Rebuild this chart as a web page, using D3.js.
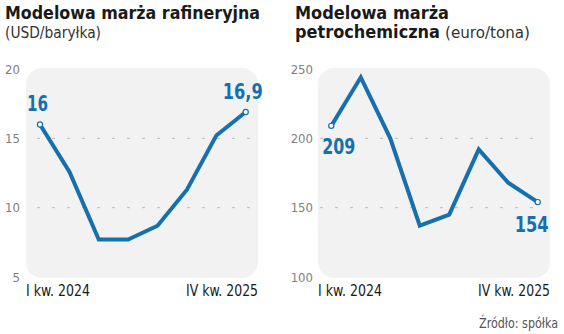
<!DOCTYPE html>
<html><head><meta charset="utf-8">
<script src="https://cdn.jsdelivr.net/npm/d3@7/dist/d3.min.js"></script>
<style>
html,body{margin:0;padding:0;background:#fff;}
svg{display:block;font-family:"DejaVu Sans Condensed","DejaVu Sans",sans-serif;}
</style></head><body>
<svg id="c" width="564" height="334"></svg>
<script>
const quarters = ["I kw. 2024","II kw. 2024","III kw. 2024","IV kw. 2024","I kw. 2025","II kw. 2025","III kw. 2025","IV kw. 2025"];
const refiningMargin = [16, 12.6, 7.7, 7.7, 8.7, 11.3, 15.2, 16.9];
const petchemMargin = [209, 244, 200, 137, 145, 192, 168, 154];
const refiningTicks = [5, 10, 15, 20];
const petchemTicks = [100, 150, 200, 250];
const refiningLabels = ["16", "16,9"];
const petchemLabels = ["209", "154"];

const svg = d3.select("#c");
const BLUE = "#1670ad";

function panel(o){
  const g = svg.append("g");
  const x = d3.scalePoint().domain(quarters).range([o.x0, o.x1]);
  const y = d3.scaleLinear().domain(o.domain).range([277, 69]);
  g.append("rect").attr("x", o.bgL).attr("y", 68).attr("width", o.bgR - o.bgL).attr("height", 210)
    .attr("rx", 16).attr("fill", "#f2f2f2");
  const ax = d3.axisLeft(y).tickValues(o.ticks).tickSize(0).tickPadding(0);
  const ag = g.append("g").attr("transform", `translate(${o.tickX},0)`).call(ax);
  ag.select(".domain").remove();
  ag.selectAll("text").attr("fill", "#808080").attr("font-size", 13)
    .attr("font-family", "'DejaVu Sans Condensed','DejaVu Sans',sans-serif").attr("font-weight", 300);
  g.selectAll(".grid").data(o.ticks.slice(1, -1)).enter().append("line")
    .attr("x1", o.gL).attr("x2", o.gR).attr("y1", d => y(d)).attr("y2", d => y(d))
    .attr("stroke", "#bbb").attr("stroke-width", 1).attr("stroke-dasharray", "3,12");
  g.append("text").attr("x", o.bgL).attr("y", 296).attr("font-size", 15.5).attr("fill", "#1a1a1a")
    .attr("font-weight", 500).attr("textLength", 64).attr("lengthAdjust", "spacingAndGlyphs").text(quarters[0]);
  g.append("text").attr("x", o.bgR).attr("y", 296).attr("font-size", 15.5).attr("fill", "#1a1a1a")
    .attr("text-anchor", "end").attr("font-weight", 500).attr("textLength", 72)
    .attr("lengthAdjust", "spacingAndGlyphs").text(quarters[quarters.length - 1]);
  const line = d3.line().x((d, i) => x(quarters[i])).y(d => y(d));
  g.append("path").datum(o.data).attr("d", line).attr("fill", "none").attr("stroke", BLUE)
    .attr("stroke-width", 4).attr("stroke-linejoin", "miter");
  const ends = [0, o.data.length - 1];
  g.selectAll(".dot").data(ends).enter().append("circle")
    .attr("cx", i => x(quarters[i])).attr("cy", i => y(o.data[i])).attr("r", 2.6)
    .attr("fill", "#fff").attr("stroke", BLUE).attr("stroke-width", 1.2);
  o.labels.forEach((t, k) => {
    const i = ends[k];
    g.append("text").attr("x", x(quarters[i]) + o.lab[k][0]).attr("y", y(o.data[i]) + o.lab[k][1])
      .attr("text-anchor", o.lab[k][2]).attr("font-size", 21).attr("font-weight", "bold")
      .attr("textLength", o.lab[k][3]).attr("lengthAdjust", "spacingAndGlyphs")
      .attr("fill", BLUE).text(t);
  });
  return g;
}

panel({x0: 40, x1: 245.7, bgL: 26, bgR: 258, gL: 37, gR: 252, tickX: 20, domain: [5, 20],
  ticks: refiningTicks, data: refiningMargin, labels: refiningLabels,
  lab: [[-13, -13, "start", 21], [17, -13, "end", 40]]});
panel({x0: 331.3, x1: 537.7, bgL: 318, bgR: 550, gL: 320, gR: 543, tickX: 313, domain: [100, 250],
  ticks: petchemTicks, data: petchemMargin, labels: petchemLabels,
  lab: [[-9, 28, "start", 33], [11, 30, "end", 34]]});

svg.append("text").attr("x", 5).attr("y", 19).attr("font-size", 18.5).attr("font-weight", "bold")
  .attr("fill", "#1a1a1a").attr("textLength", 255).attr("lengthAdjust", "spacingAndGlyphs")
  .text("Modelowa marża rafineryjna");
svg.append("text").attr("x", 5).attr("y", 38).attr("font-size", 16).attr("fill", "#333")
  .attr("font-weight", 300).attr("textLength", 96).attr("lengthAdjust", "spacingAndGlyphs").text("(USD/baryłka)");
svg.append("text").attr("x", 295).attr("y", 19).attr("font-size", 18.5).attr("font-weight", "bold")
  .attr("fill", "#1a1a1a").attr("textLength", 154).attr("lengthAdjust", "spacingAndGlyphs").text("Modelowa marża");
svg.append("text").attr("x", 295).attr("y", 38).attr("font-size", 18.5).attr("font-weight", "bold")
  .attr("fill", "#1a1a1a").attr("textLength", 145).attr("lengthAdjust", "spacingAndGlyphs").text("petrochemiczna");
svg.append("text").attr("x", 445).attr("y", 38).attr("font-size", 16).attr("fill", "#333")
  .attr("font-weight", 300).attr("textLength", 85).attr("lengthAdjust", "spacingAndGlyphs").text("(euro/tona)");
svg.append("text").attr("x", 558).attr("y", 328).attr("text-anchor", "end").attr("font-size", 13.5)
  .attr("fill", "#555").attr("textLength", 79).attr("lengthAdjust", "spacingAndGlyphs").text("Źródło: spółka");
</script>
</body></html>
